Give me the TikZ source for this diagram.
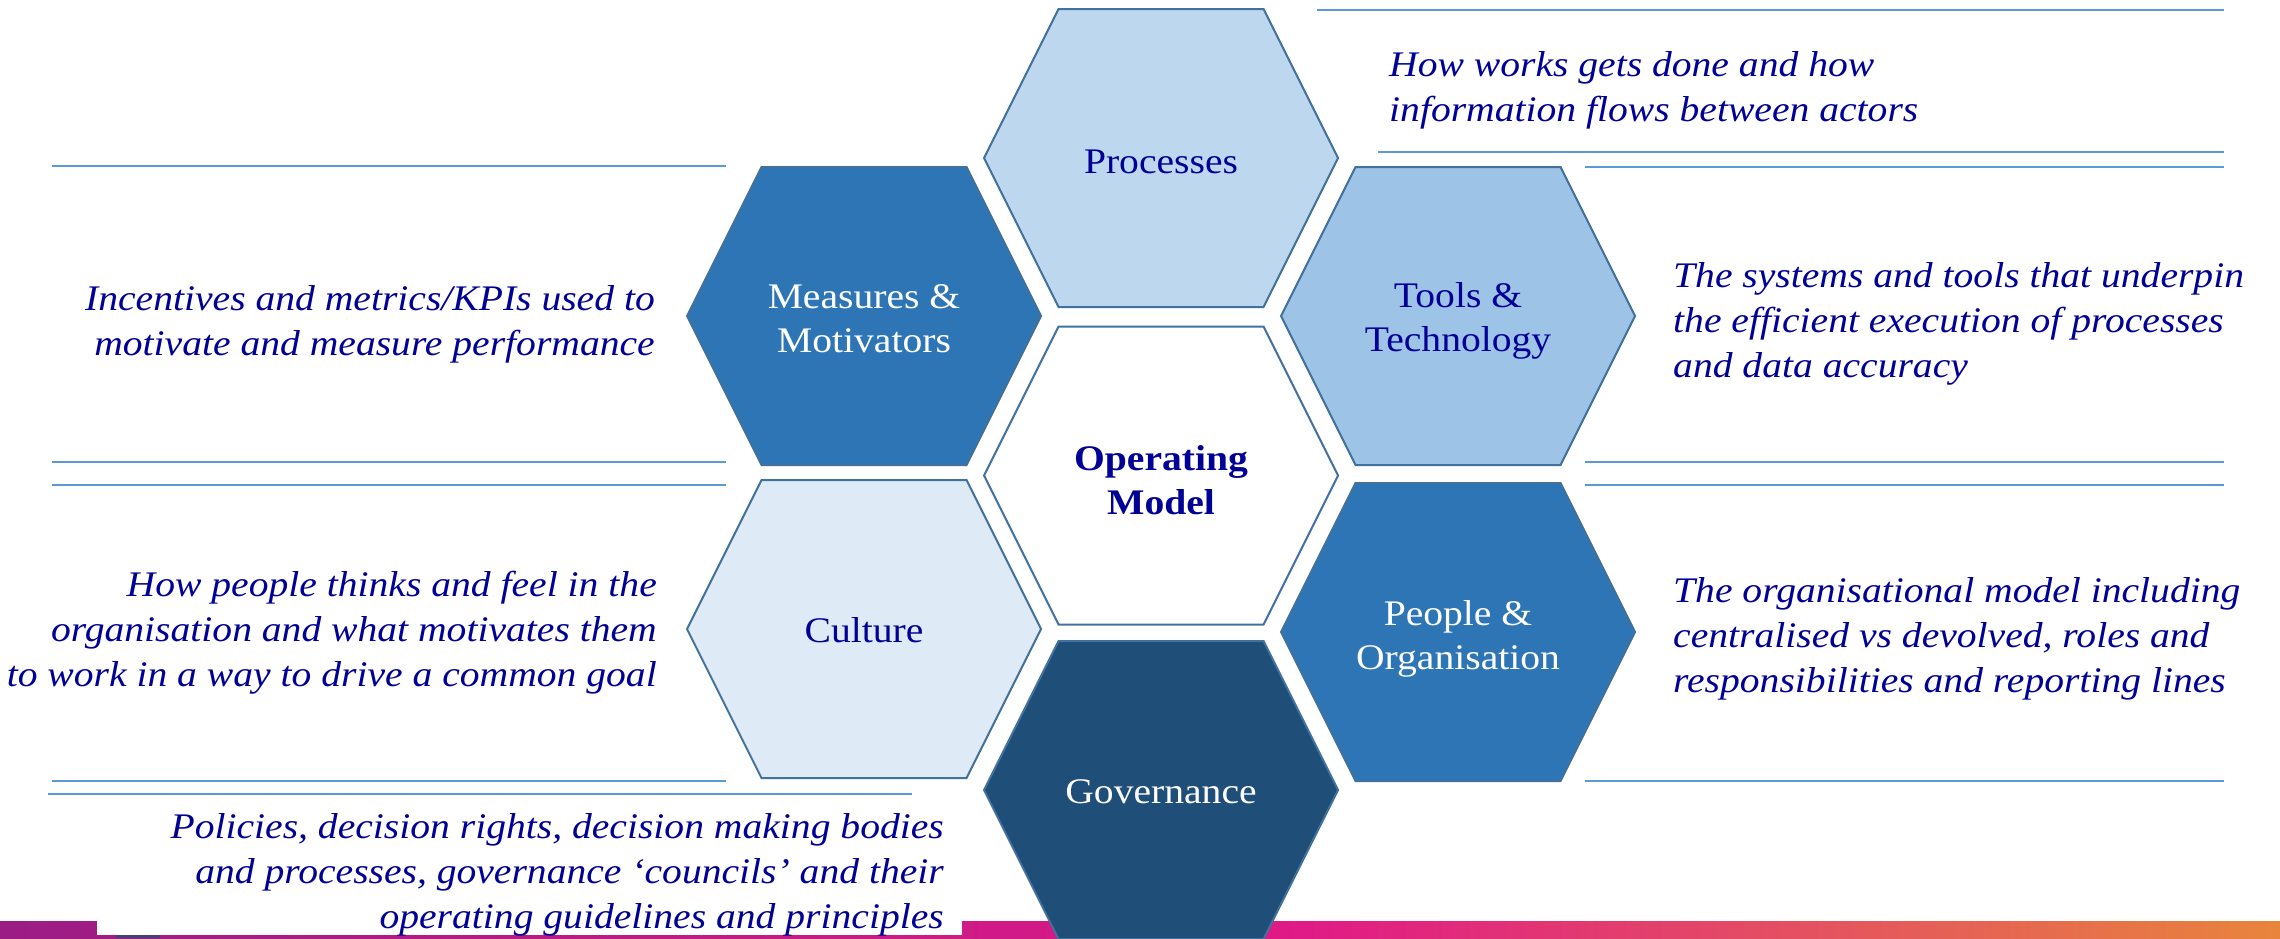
\documentclass[tikz,border=0pt]{standalone}
\usepackage{fontspec}
\setmainfont{Liberation Serif}[FakeStretch=1.1]
\definecolor{txt}{RGB}{0,0,150}
\definecolor{hexline}{HTML}{41719C}
\definecolor{cProc}{HTML}{BDD7EE}
\definecolor{cMid}{HTML}{2E75B6}
\definecolor{cTool}{HTML}{9DC3E6}
\definecolor{cCult}{HTML}{DEEBF7}
\definecolor{cGov}{HTML}{1F4E79}
\definecolor{ruleblue}{HTML}{5B9BD5}
\definecolor{barL}{HTML}{9B1C85}
\definecolor{barM}{HTML}{E01A87}
\definecolor{barR}{HTML}{E8853C}
\newcommand\hexshape[3]{%
  \draw[hexbox, fill=#3] (#1-177,#2) -- (#1-102.5,#2-149) -- (#1+102.5,#2-149) -- (#1+177,#2)
    -- (#1+102.5,#2+149) -- (#1-102.5,#2+149) -- cycle;}
\newcommand\txtlines[2]{\begin{tabular}[t]{@{}#1@{}}#2\end{tabular}}
\tikzset{
  hexbox/.style={draw=hexline, line width=2pt, line join=miter},
  rulel/.style={draw=ruleblue, line width=1.6pt},
  hexlabel/.style={inner sep=0pt, anchor=base, font=\fontsize{36}{44}\selectfont},
  desc/.style={inner sep=0pt, text=txt, font=\fontsize{36}{45}\selectfont\itshape},
}
\begin{document}
\begin{tikzpicture}[x=1pt, y=-1pt]
\useasboundingbox (0,0) rectangle (2280,938);
\clip (0,0) rectangle (2280,938);
% bottom bar
\shade[left color=barL, right color=barM] (0,921) rectangle (1300,938);
\shade[left color=barM, right color=barR] (1300,921) rectangle (2280,938);
\fill[white] (97,800) rectangle (962,935);
\fill[cGov!70!barL] (116,935) rectangle (160,938);
% rules
\draw[rulel] (1317,10) -- (2224,10);
\draw[rulel] (1378,152) -- (2224,152);
\draw[rulel] (1585,167) -- (2224,167);
\draw[rulel] (1585,462) -- (2224,462);
\draw[rulel] (1585,485) -- (2224,485);
\draw[rulel] (1585,781) -- (2224,781);
\draw[rulel] (52,166) -- (726,166);
\draw[rulel] (52,462) -- (726,462);
\draw[rulel] (52,485) -- (726,485);
\draw[rulel] (52,781) -- (726,781);
\draw[rulel] (48,794) -- (912,794);
% hexagons
\hexshape{1161}{158}{cProc}
\hexshape{1161}{475.5}{white}
\hexshape{1161}{790}{cGov}
\hexshape{864}{316}{cMid}
\hexshape{864}{629}{cCult}
\hexshape{1458}{316}{cTool}
\hexshape{1458}{632}{cMid}
% hexagon labels
\node[hexlabel, text=txt] (proc) at (1161,173) {Processes};
\node[hexlabel, text=txt] (om) at (1161,470) {\bfseries\txtlines{c}{Operating\\Model}};
\node[hexlabel, text=white] (gov) at (1161,803) {Governance};
\node[hexlabel, text=white] (meas) at (864,308) {\txtlines{c}{Measures \&\\Motivators}};
\node[hexlabel, text=txt] (cult) at (864,642) {Culture};
\node[hexlabel, text=txt] (tool) at (1458,307) {\txtlines{c}{Tools \&\\Technology}};
\node[hexlabel, text=white] (people) at (1458,625) {\txtlines{c}{People \&\\Organisation}};
% descriptions
\node[desc, anchor=base west] (procTxt) at (1389,76)
  {\txtlines{l}{How works gets done and how\\information flows between actors}};
\node[desc, anchor=base west] (toolTxt) at (1673,287)
  {\txtlines{l}{The systems and tools that underpin\\the efficient execution of processes\\and data accuracy}};
\node[desc, anchor=base west] (peopleTxt) at (1673,602)
  {\txtlines{l}{The organisational model including\\centralised vs devolved, roles and\\responsibilities and reporting lines}};
\node[desc, anchor=base east] (measTxt) at (655,310)
  {\txtlines{r}{Incentives and metrics/KPIs used to\\motivate and measure performance}};
\node[desc, anchor=base east] (cultTxt) at (657,596)
  {\txtlines{r}{How people thinks and feel in the\\organisation and what motivates them\\to work in a way to drive a common goal}};
\node[desc, anchor=base east] (govTxt) at (944,838)
  {\txtlines{r}{Policies, decision rights, decision making bodies\\and processes, governance ‘councils’ and their\\operating guidelines and principles}};
\end{tikzpicture}
\end{document}
